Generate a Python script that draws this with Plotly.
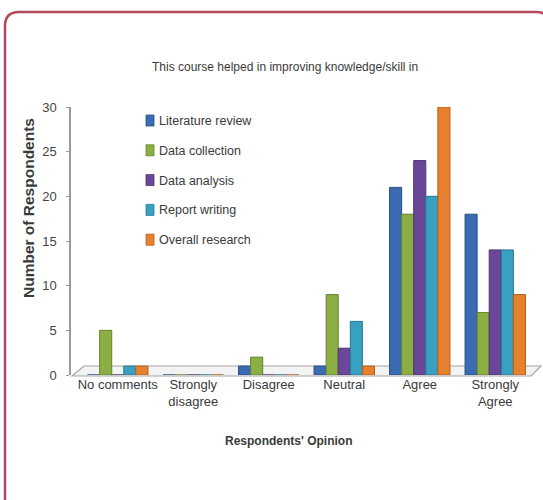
import plotly.graph_objects as go

categories = ["No comments", "Strongly<br>disagree", "Disagree", "Neutral", "Agree", "Strongly<br>Agree"]
series_names = ["Literature review", "Data collection", "Data analysis", "Report writing", "Overall research"]
literature_review = [0, 0, 1, 1, 21, 18]
data_collection = [5, 0, 2, 9, 18, 7]
data_analysis = [0, 0, 0, 3, 24, 14]
report_writing = [1, 0, 0, 6, 20, 14]
overall_research = [1, 0, 0, 1, 30, 9]
y_ticks = [0, 5, 10, 15, 20, 25, 30]

values = [literature_review, data_collection, data_analysis, report_writing, overall_research]
colors = ["#3a6bb3", "#8caf44", "#6b4799", "#38a1c1", "#e8812d"]
edge = ["#2a4f86", "#66832e", "#4d3470", "#27778f", "#b35f1d"]

FONT = "Liberation Sans, Arial, sans-serif"
TXT = "#3a3a3a"

W, H = 543, 500
L, R, T, B = 70, 10, 107, 125
pw, ph = W - L - R, H - T - B

def px(x):
    return (x - L) / pw

def py(y):
    return (H - B - y) / ph

fig = go.Figure()
for i, (name, vals) in enumerate(zip(series_names, values)):
    fig.add_trace(go.Bar(
        x=categories, y=vals, name=name,
        marker=dict(color=colors[i], line=dict(color=edge[i], width=1)),
        showlegend=False,
    ))

# rounded frame
x0, x1, y0, y1 = px(5), px(550), py(12), py(520)
rx, ry = 14 / pw, 14 / ph
path = (f"M {x0+rx},{y0} L {x1-rx},{y0} Q {x1},{y0} {x1},{y0-ry} "
        f"L {x1},{y1+ry} Q {x1},{y1} {x1-rx},{y1} L {x0+rx},{y1} "
        f"Q {x0},{y1} {x0},{y1+ry} L {x0},{y0-ry} Q {x0},{y0} {x0+rx},{y0} Z")
fig.add_shape(type="path", path=path, xref="paper", yref="paper",
              line=dict(color="#b5475a", width=2.5), layer="below")

# floor plate
fig.add_shape(type="path", xref="paper", yref="paper",
              path=(f"M {px(72)},{py(376)} L {px(531)},{py(376)} L {px(541)},{py(366)} "
                    f"L {px(84)},{py(366)} Z"),
              line=dict(color="#a5a5a5", width=1.2), fillcolor="rgba(238,238,238,0.7)", layer="below")

# custom legend
for i, name in enumerate(series_names):
    cy = 121 + i * 29.8
    fig.add_shape(type="rect", xref="paper", yref="paper",
                  x0=px(146), x1=px(154), y0=py(cy - 6), y1=py(cy + 5),
                  fillcolor=colors[i], line=dict(color=edge[i], width=0.8))
    fig.add_annotation(text=name, x=px(157), y=py(cy), xref="paper", yref="paper",
                       xanchor="left", yanchor="middle", showarrow=False,
                       font=dict(size=12.5, color=TXT, family=FONT))

fig.add_annotation(text="This course helped in improving knowledge/skill in",
                   x=px(285), y=py(67), xref="paper", yref="paper", showarrow=False,
                   xanchor="center", yanchor="middle",
                   font=dict(size=12, color=TXT, family=FONT))
fig.add_annotation(text="<b>Number of Respondents</b>", textangle=-90,
                   x=px(28), y=py(208), xref="paper", yref="paper", showarrow=False,
                   xanchor="center", yanchor="middle",
                   font=dict(size=15.5, color=TXT, family=FONT))
fig.add_annotation(text="<b>Respondents' Opinion</b>",
                   x=px(289), y=py(441), xref="paper", yref="paper", showarrow=False,
                   xanchor="center", yanchor="middle",
                   font=dict(size=12, color=TXT, family=FONT))

fig.update_layout(
    width=W, height=H,
    margin=dict(l=L, r=R, t=T, b=B),
    paper_bgcolor="white", plot_bgcolor="white",
    barmode="group", bargap=0.2, bargroupgap=0.0,
    font=dict(family=FONT, color=TXT, size=13),
    xaxis=dict(domain=[10 / pw, 1], showgrid=False, showline=False, ticks="",
               zeroline=False, tickfont=dict(size=13, family=FONT, color=TXT)),
    yaxis=dict(range=[0, 30], tickvals=y_ticks, showgrid=False, showline=True,
               anchor="free", position=0,
               linecolor="#9a9a9a", linewidth=1.5, ticks="outside", ticklen=3,
               tickcolor="#9a9a9a", zeroline=False, ticklabelstandoff=7,
               tickfont=dict(size=13, family=FONT, color="#444444")),
)

fig.write_html("out.html", config={"displayModeBar": False},
               post_script="document.body.style.margin='0';")
